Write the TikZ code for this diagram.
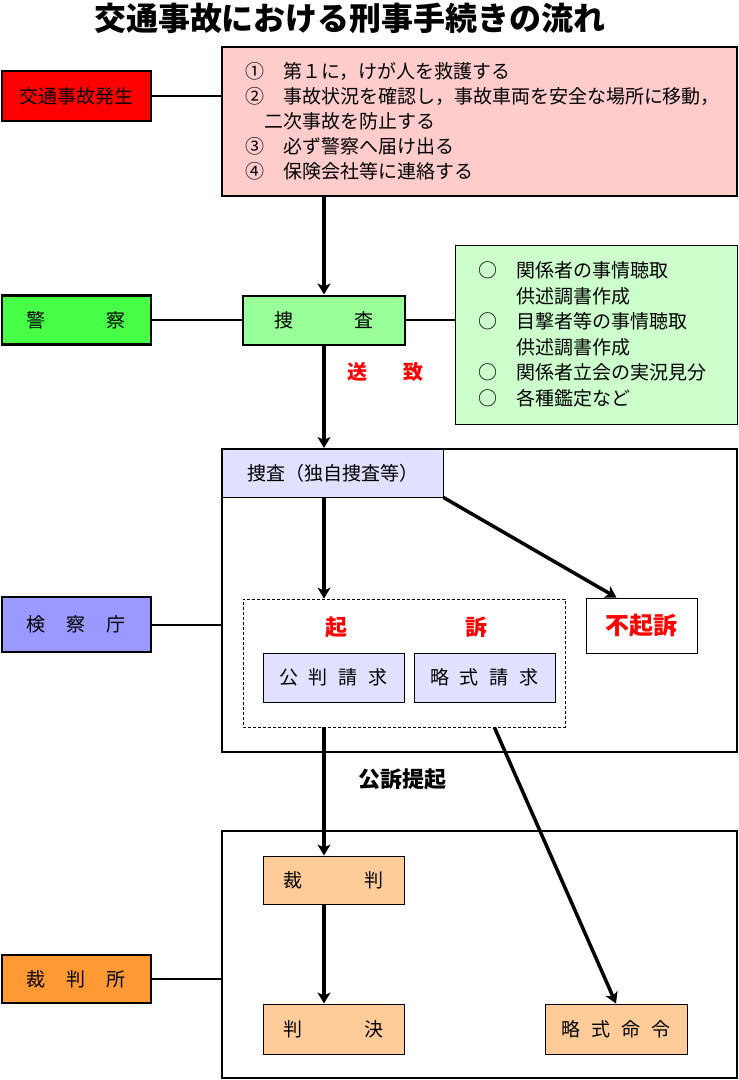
\documentclass[tikz,border=0pt]{standalone}
\usepackage{fontspec}
\setmainfont{Noto Sans CJK JP}
\usetikzlibrary{arrows.meta, positioning, calc}

\definecolor{jikored}{RGB}{255,0,0}
\definecolor{jikopink}{RGB}{255,204,204}
\definecolor{polgreen}{RGB}{72,255,72}
\definecolor{sousagreen}{RGB}{153,255,153}
\definecolor{infogreen}{RGB}{204,255,204}
\definecolor{lavender}{RGB}{224,224,255}
\definecolor{kenblue}{RGB}{153,153,255}
\definecolor{saiorange}{RGB}{255,153,51}
\definecolor{peach}{RGB}{255,204,153}

\begin{document}
\begin{tikzpicture}[x=1pt, y=-1pt,
    tag/.style={draw, line width=2.5pt, minimum width=149pt, inner sep=0pt, font=\fontsize{19}{23}\selectfont},
    card/.style={draw, line width=1pt, minimum width=141pt, minimum height=49pt, inner sep=0pt, font=\fontsize{19}{23}\selectfont},
    wall/.style={draw, line width=2pt, inner sep=0pt},
    link/.style={line width=2pt},
    flow/.style={line width=3.5pt, -{Stealth[length=11pt, width=13pt, inset=3pt]}},
    redword/.style={text=red, inner sep=0pt, font=\bfseries\fontsize{22}{26}\selectfont}]

  \useasboundingbox (0,0) rectangle (739,1080);

  % title
  \node[inner sep=0pt, font=\bfseries\fontsize{32}{36}\selectfont] (title) at (350,18) {交通事故における刑事手続きの流れ};

  % frames of the two offices
  \node[wall, minimum width=515pt, minimum height=303pt] (kenF) at (479.5,600.5) {};
  \node[wall, minimum width=515pt, minimum height=247pt] (saiF) at (479.5,954) {};

  % left column
  \node[tag, fill=jikored, minimum height=50pt] (jiko) at (76.5,96) {交通事故発生};
  \node[tag, fill=polgreen, minimum height=49pt] (keisatsu) at (76.5,320) {警\hspace{61pt}察};
  \node[tag, fill=kenblue, minimum height=55pt] (kenL) at (76.5,624.5) {検\hspace{21pt}察\hspace{21pt}庁};
  \node[tag, fill=saiorange, minimum height=48pt] (saiL) at (76.5,979) {裁\hspace{21pt}判\hspace{21pt}所};

  % what to do at the scene
  \node[wall, fill=jikopink, minimum width=515pt, minimum height=149pt, text width=469pt,
        align=left, font=\fontsize{19}{25}\selectfont] (acc) at (479.5,121.5)
    {①　第１に，けが人を救護する\\
     ②　事故状況を確認し，事故車両を安全な場所に移動，\\
     　二次事故を防止する\\
     ③　必ず警察へ届け出る\\
     ④　保険会社等に連絡する};

  % police
  \node[draw, line width=2pt, fill=sousagreen, minimum width=162pt, minimum height=49pt, inner sep=0pt,
        font=\fontsize{19}{23}\selectfont] (sousa) at (324,320) {捜\hspace{61pt}査};
  \node[draw, line width=1pt, fill=infogreen, minimum width=282pt, minimum height=179pt, inner sep=0pt,
        text width=236pt, align=left, font=\fontsize{19}{25.5}\selectfont] (info) at (596,334.5)
    {○　関係者の事情聴取\\
     　　供述調書作成\\
     ○　目撃者等の事情聴取\\
     　　供述調書作成\\
     ○　関係者立会の実況見分\\
     ○　各種鑑定など};
  \node[redword, font=\bfseries\fontsize{20}{24}\selectfont] (sochi) at (385,372) {送\hspace{36pt}致};

  % prosecutors
  \node[card, fill=lavender, minimum width=221pt, minimum height=48pt] (dok) at (332.5,473) {捜査（独自捜査等）};
  \node[draw, dashed, line width=0.8pt, dash pattern=on 3pt off 2pt, minimum width=322pt, minimum height=128pt] (kiso) at (404,663) {};
  \node[redword] (kisoT) at (406,627) {起\hspace{118pt}訴};
  \node[card, fill=lavender] (kohan) at (333.5,677.5) {公\hspace{11pt}判\hspace{11pt}請\hspace{11pt}求};
  \node[card, fill=lavender] (ryakuS) at (484.5,677.5) {略\hspace{11pt}式\hspace{11pt}請\hspace{11pt}求};
  \node[draw, line width=1pt, fill=white, minimum width=111pt, minimum height=55pt, inner sep=0pt,
        text=red, font=\bfseries\fontsize{24}{28}\selectfont] (fuki) at (641.5,625.5) {不起訴};
  \node[inner sep=0pt, font=\bfseries\fontsize{22}{26}\selectfont] (koso) at (402,779) {公訴提起};

  % court
  \node[card, fill=peach, minimum height=48pt] (saiban) at (333.5,880) {裁\hspace{62pt}判};
  \node[card, fill=peach, minimum height=50pt] (hanketsu) at (333.5,1029) {判\hspace{62pt}決};
  \node[card, fill=peach, minimum width=142pt, minimum height=50pt] (ryakuM) at (616,1029) {略\hspace{11pt}式\hspace{11pt}命\hspace{11pt}令};

  % side links
  \draw[link] (jiko.east) -- (jiko.east -| acc.west);
  \draw[link] (keisatsu.east) -- (sousa.west);
  \draw[link] (sousa.east) -- (sousa.east -| info.west);
  \draw[link] (kenL.east) -- (kenL.east -| kenF.west);
  \draw[link] (saiL.east) -- (saiL.east -| saiF.west);

  % flow
  \coordinate (kisoOut) at ($(kiso.south west)!0.78!(kiso.south east)$);
  \draw[flow] (sousa.north |- acc.south) -- (sousa.north);
  \draw[flow] (sousa.south) -- (sousa.south |- kenF.north);
  \draw[flow] (sousa.south |- dok.south) -- (sousa.south |- kiso.north);
  \draw[flow] (dok.south east) -- ([xshift=-25pt]fuki.north);
  \draw[flow] (sousa.south |- kiso.south) -- (sousa.south |- saiban.north);
  \draw[flow] (sousa.south |- saiban.south) -- (sousa.south |- hanketsu.north);
  \draw[flow] (kisoOut) -- (ryakuM.north);
\end{tikzpicture}
\end{document}
